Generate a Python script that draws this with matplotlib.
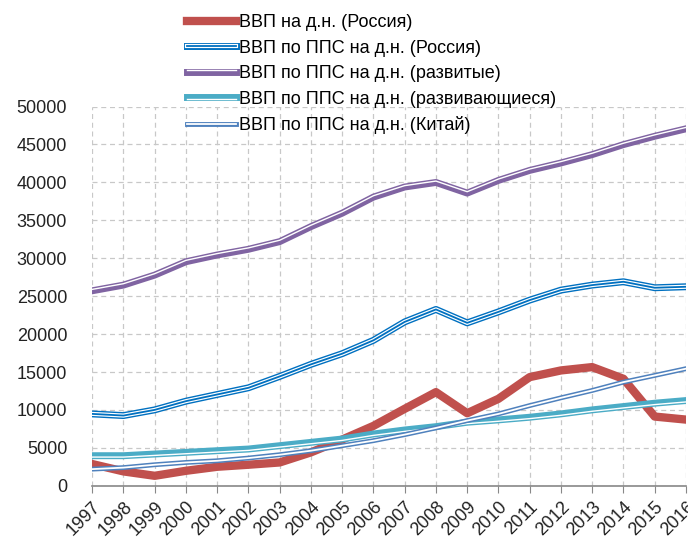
import numpy as np
import matplotlib.pyplot as plt
import matplotlib.patheffects as pe

plt.rcParams['font.family'] = ['Liberation Sans', 'DejaVu Sans']

years = list(range(1997, 2017))

# ВВП на д.н. (Россия)
gdp_rus = [2870, 1900, 1320, 1980, 2510, 2780, 3080, 4410, 6100, 7900,
           10150, 12350, 9570, 11470, 14330, 15210, 15650, 14110, 9130, 8730]
# ВВП по ППС на д.н. (Россия)
ppp_rus = [9480, 9260, 10010, 11160, 12040, 12920, 14420, 16010, 17420, 19180,
           21610, 23250, 21480, 22930, 24480, 25800, 26460, 26900, 26110, 26240]
# ВВП по ППС на д.н. (развитые)
ppp_dev = [25710, 26460, 27780, 29540, 30430, 31180, 32190, 34170, 35940, 38060,
           39390, 39990, 38590, 40260, 41580, 42560, 43660, 44980, 46080, 47060]
# ВВП по ППС на д.н. (развивающиеся)
ppp_emg = [3970, 3970, 4190, 4410, 4630, 4850, 5290, 5730, 6170, 6830,
           7360, 7800, 8380, 8690, 9040, 9480, 10010, 10450, 10890, 11240]
# ВВП по ППС на д.н. (Китай)
ppp_chn = [2200, 2400, 2780, 3080, 3300, 3660, 4100, 4630, 5290, 5950,
           6750, 7630, 8600, 9480, 10580, 11600, 12570, 13670, 14550, 15440]

labels = ['ВВП на д.н. (Россия)',
          'ВВП по ППС на д.н. (Россия)',
          'ВВП по ППС на д.н. (развитые)',
          'ВВП по ППС на д.н. (развивающиеся)',
          'ВВП по ППС на д.н. (Китай)']
colors = ['#C0504D', '#0070C0', '#8064A2', '#4BACC6', '#4F81BD']

fig = plt.figure(figsize=(6.88, 5.38), dpi=100)
ax = fig.add_axes([0.134, 0.097, 0.863, 0.705])

x = np.array(years)

# red solid thick line
ax.plot(x, gdp_rus, color=colors[0], lw=6, label=labels[0], zorder=3)

# compound (double) lines: colored stroke with a white stripe inside
ax.plot(x, ppp_rus, color=colors[1], lw=5, label=labels[1], zorder=4,
        path_effects=[pe.Normal(),
                      pe.Stroke(linewidth=3, foreground='white'),
                      pe.Stroke(linewidth=1.3, foreground=colors[1])])
ax.plot(x, ppp_dev, color=colors[2], lw=5, label=labels[2], zorder=4,
        path_effects=[pe.Normal(),
                      pe.Stroke(linewidth=1.0, foreground='white', offset=(0, 1))])
ax.plot(x, ppp_emg, color=colors[3], lw=5, label=labels[3], zorder=4,
        path_effects=[pe.Normal(),
                      pe.Stroke(linewidth=1.0, foreground='white', offset=(0, -1))])
ax.plot(x, ppp_chn, color=colors[4], lw=3.5, label=labels[4], zorder=4,
        path_effects=[pe.Normal(),
                      pe.Stroke(linewidth=1.3, foreground='white')])

ax.set_xlim(1997, 2016)
ax.set_ylim(0, 50000)
ax.set_xticks(years)
ax.set_xticklabels([str(y) for y in years], rotation=45, ha='right',
                   rotation_mode='anchor', fontsize=13)
ax.set_yticks(range(0, 50001, 5000))
ax.tick_params(axis='y', length=0, pad=18, labelsize=13, labelcolor='#222222')
ax.tick_params(axis='x', length=5, color='#888888', pad=4, labelcolor='#222222')

ax.grid(True, color='#C8C8C8', linestyle=(0, (4, 3)), lw=0.9)
ax.set_axisbelow(True)
for s in ['top', 'right', 'left']:
    ax.spines[s].set_visible(False)
ax.spines['bottom'].set_color('#888888')
ax.spines['bottom'].set_linewidth(1.2)

fig.legend(loc='upper left', bbox_to_anchor=(0.261, 0.987), frameon=False,
           fontsize=13, handlelength=2.7, handletextpad=0.2, labelspacing=0.47,
           borderaxespad=0)

fig.savefig('out.png', dpi=100)
